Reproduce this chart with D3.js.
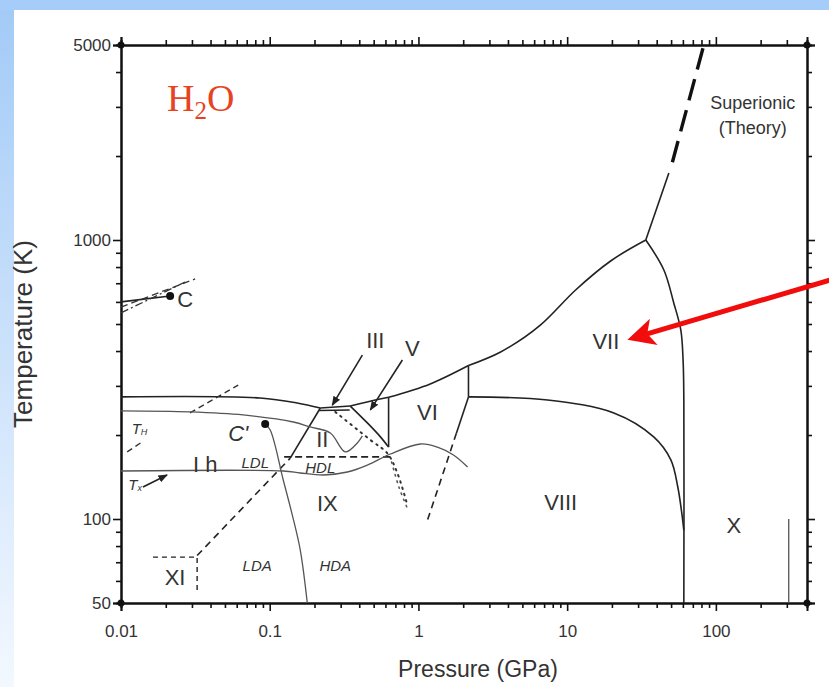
<!DOCTYPE html>
<html>
<head>
<meta charset="utf-8">
<script src="https://cdn.jsdelivr.net/npm/d3@7"></script>
<style>
  body { margin: 0; background: #fff; }
  text { font-family: "Liberation Sans", Arial, sans-serif; fill: #333; }
</style>
</head>
<body>
<div class="visArea"></div>
<script>
// Chart size
var width = 829;
var height = 687;

// Axis ticks (pressure in GPa, temperature in K)
var xMajor = [0.01, 0.1, 1, 10, 100];
var xMajorLabels = ["0.01", "0.1", "1", "10", "100"];
var xMinor = [0.02, 0.03, 0.04, 0.05, 0.06, 0.07, 0.08, 0.09,
  0.2, 0.3, 0.4, 0.5, 0.6, 0.7, 0.8, 0.9,
  2, 3, 4, 5, 6, 7, 8, 9,
  20, 30, 40, 50, 60, 70, 80, 90, 200, 300];
var yMajor = [50, 100, 1000, 5000];
var yMajorLabels = ["50", "100", "1000", "5000"];
var yMinor = [60, 70, 80, 90, 200, 300, 400, 500, 600, 700, 800, 900, 2000, 3000, 4000];

// Phase boundaries, [pressure, temperature]
var meltIh = [[0.01, 274], [0.086, 271.5], [0.153, 260.6], [0.219, 250]];
var meltIII = [[0.219, 250], [0.348, 254]];
var lowerIII = [[0.215, 245], [0.345, 246]];
var meltV = [[0.348, 254], [0.53, 268], [0.63, 273]];
var meltVI = [[0.63, 273], [1.2, 305], [2.17, 355]];
var meltVII = [[2.17, 355], [3.57, 397], [6.63, 496], [11.4, 662], [19.6, 841], [33.8, 1000]];
var upperVII = [[33.8, 1000], [48.3, 1739]];
var superionic = [[51, 1900], [83, 5000]];
var boundaryVII_X = [[33.8, 1000], [44.7, 781], [52.1, 595], [58.1, 476], [60.2, 371], [60.9, 267], [60.9, 50]];
var boundaryVII_VIII = [[2.17, 274], [7.39, 267], [20.6, 240], [38.2, 197], [49.8, 163], [55.5, 130], [59, 105], [60.9, 91]];
var boundaryVI_VII = [[2.17, 355], [2.17, 274]];
var boundaryVI_VIII = [[2.17, 274], [1.8, 203]];
var boundaryVI_VIII_dash = [[1.8, 203], [1.15, 99]];
var boundaryII_V = [[0.348, 254], [0.4535, 221], [0.555, 197], [0.63, 181]];
var boundaryV_VI = [[0.63, 273], [0.63, 181]];
var boundaryIh_II = [[0.137, 165], [0.219, 250]];
var boundaryIh_XI_dash = [[0.0325, 74], [0.137, 165]];
var boundaryXI = [[0.0164, 73], [0.0325, 73], [0.0325, 55.7]];
var ihDashA = [[0.011, 174], [0.01385, 189]];
var ihDashB = [[0.0291, 240], [0.0614, 302]];
var hdlDash = [[0.125, 167], [0.65, 167]];
var dottedII = [[0.276, 242], [0.475, 192], [0.618, 172], [0.722, 146], [0.843, 112]];
var dottedII2 = [[0.66, 160], [0.74, 130], [0.85, 108]];
var liquidVapour = [[0.01, 600], [0.0214, 630]];
var lvDashA = [[0.01, 575], [0.0315, 725]];
var lvDashB = [[0.01, 548], [0.027, 707]];
var criticalC = [0.0214, 630];
var criticalC2 = [0.0932, 219];

// Grey lines: homogeneous nucleation T_H, crystallisation T_x, LDA/HDA
var lineTH = [[0.01, 244], [0.0291, 242], [0.0663, 236], [0.144, 222.7], [0.1874, 213.7], [0.2556, 203.4],
  [0.3225, 174], [0.388, 187.3], [0.4196, 198.5]];
var lineTx = [[0.01, 148.6], [0.1233, 148.6], [0.1605, 146.2], [0.2293, 143.8], [0.3325, 147.4], [0.4535, 156.1],
  [0.6477, 171], [1.032, 185.7], [1.343, 181], [1.72, 169.6], [2.14, 153.6]];
var lineC2 = [[0.0932, 219], [0.1008, 208.5], [0.1233, 138], [0.1418, 103.4], [0.1605, 77.4], [0.1789, 50]];
var lineX = [[309, 100], [309, 50]];

// Pointer arrows [from, to]
var arrowIII = [[0.4196, 387], [0.2636, 256]];
var arrowV = [[0.78, 371.5], [0.475, 246]];
var arrowTx = [[0.01406, 130.2], [0.0204, 143.8]];
var arrowRed = [[586, 719], [27.6, 445]];

// Labels
var phaseNames = ["VII", "VI", "VIII", "IX", "X", "XI", "II", "I h", "III", "V"];
var phaseAt = [[18.2, 431], [1.15, 240], [9.04, 115], [0.244, 114], [132, 95], [0.0231, 61.5],
  [0.2257, 192], [0.0368, 157], [0.513, 438], [0.911, 410]];
var smallNames = ["LDL", "HDL", "LDA", "HDA"];
var smallAt = [[0.0799, 160], [0.2187, 153.6], [0.0824, 67.9], [0.276, 67.9]];

var x = d3.scaleLog().domain([0.01, 410]).range([121, 807]);
var y = d3.scaleLog().domain([50, 5000]).range([603, 45]);

var svg = d3.select('body').select('.visArea')
  .append('svg')
  .attr('width', width)
  .attr('height', height);

// slide background bands
var defs = svg.append('defs');
var grad = defs.append('linearGradient')
  .attr('id', 'sideBand')
  .attr('x1', 0).attr('y1', 0).attr('x2', 0).attr('y2', 1);
grad.append('stop').attr('offset', '0%').attr('stop-color', '#a3cbf7');
grad.append('stop').attr('offset', '100%').attr('stop-color', '#f3f8ff');
svg.append('rect').attr('width', width).attr('height', height).attr('fill', '#fff');
svg.append('rect').attr('width', width).attr('height', 10).attr('fill', '#a6cdf9');
svg.append('rect').attr('y', 10).attr('width', 14).attr('height', height - 10).attr('fill', 'url(#sideBand)');

var marker = defs.append('marker')
  .attr('id', 'head')
  .attr('viewBox', '0 0 10 10')
  .attr('refX', 9).attr('refY', 5)
  .attr('markerWidth', 6).attr('markerHeight', 6)
  .attr('orient', 'auto');
marker.append('path').attr('d', 'M0,1 L10,5 L0,9 Z').attr('fill', '#222');

var redMarker = defs.append('marker')
  .attr('id', 'redHead')
  .attr('viewBox', '0 0 10 10')
  .attr('refX', 8).attr('refY', 5)
  .attr('markerWidth', 5.5).attr('markerHeight', 5.5)
  .attr('markerUnits', 'strokeWidth')
  .attr('orient', 'auto');
redMarker.append('path').attr('d', 'M0,0 L10,5 L0,10 L2.5,5 Z').attr('fill', '#f20d0d');

function drawLine(data, color, w, dash, curve) {
  var line = d3.line()
    .x(d => x(d[0]))
    .y(d => y(d[1]))
    .curve(curve || d3.curveCatmullRom);
  var p = svg.append('path')
    .datum(data)
    .attr('d', line)
    .attr('fill', 'none')
    .attr('stroke', color)
    .attr('stroke-width', w)
    .attr('stroke-linejoin', 'round');
  if (dash) p.attr('stroke-dasharray', dash);
  return p;
}

// axes
var bottomMajor = d3.axisBottom(x).tickValues(xMajor).tickSize(8).tickPadding(14).tickFormat((d, i) => xMajorLabels[i]);
var bottomMinor = d3.axisBottom(x).tickValues(xMinor).tickSize(5).tickFormat('');
var topMajor = d3.axisTop(x).tickValues(xMajor).tickSize(8).tickFormat('');
var topMinor = d3.axisTop(x).tickValues(xMinor).tickSize(5).tickFormat('');
var leftMajor = d3.axisLeft(y).tickValues(yMajor).tickSize(8).tickPadding(2).tickFormat((d, i) => yMajorLabels[i]);
var leftMinor = d3.axisLeft(y).tickValues(yMinor).tickSize(5).tickFormat('');
var rightMajor = d3.axisRight(y).tickValues(yMajor).tickSize(8).tickFormat('');
var rightMinor = d3.axisRight(y).tickValues(yMinor).tickSize(5).tickFormat('');

function addAxis(ax, tx, ty) {
  var g = svg.append('g').attr('transform', 'translate(' + tx + ',' + ty + ')').call(ax);
  g.selectAll('path').attr('stroke', '#111').attr('stroke-width', 2);
  g.selectAll('line').attr('stroke', '#111').attr('stroke-width', 1.6);
  g.selectAll('text').style('font-size', '17px').attr('fill', '#333');
  return g;
}
addAxis(bottomMinor, 0, 603);
addAxis(bottomMajor, 0, 603);
addAxis(topMinor, 0, 45);
addAxis(topMajor, 0, 45);
addAxis(leftMinor, 121, 0);
addAxis(leftMajor, 121, 0);
addAxis(rightMinor, 807, 0);
addAxis(rightMajor, 807, 0);

[[121, 45], [121, 603], [807, 45], [807, 603]].forEach(function(c) {
  svg.append('circle').attr('cx', c[0]).attr('cy', c[1]).attr('r', 3.5).attr('fill', '#111');
});

// axis titles
svg.append('text')
  .attr('x', 478).attr('y', 677)
  .attr('text-anchor', 'middle')
  .style('font-size', '23px')
  .text('Pressure (GPa)');
svg.append('text')
  .attr('transform', 'translate(32,334) rotate(-90)')
  .attr('text-anchor', 'middle')
  .style('font-size', '26px')
  .text('Temperature (K)');

// solid phase boundaries
var solidBlack = [meltIh, meltIII, lowerIII, meltV, meltVI, upperVII, boundaryVII_X, boundaryVII_VIII,
  boundaryVI_VII, boundaryVI_VIII, boundaryII_V, boundaryV_VI, boundaryIh_II, liquidVapour];
solidBlack.forEach(d => drawLine(d, '#222', 1.6));
drawLine(meltVII, '#222', 1.6, null, d3.curveMonotoneX);

drawLine(superionic, '#111', 3.4, '22,10');
drawLine(boundaryVI_VIII_dash, '#222', 1.6, '7,5');
drawLine(boundaryIh_XI_dash, '#222', 1.6, '7,5');
drawLine(boundaryXI, '#222', 1.4, '5,4', d3.curveLinear);
drawLine(ihDashA, '#333', 1.4, '6,4');
drawLine(ihDashB, '#333', 1.4, '6,4');
drawLine(hdlDash, '#222', 1.6, '7,4');
drawLine(dottedII, '#333', 2, '1.5,5').attr('stroke-linecap', 'round');
drawLine(dottedII2, '#555', 1.6, '1.5,5').attr('stroke-linecap', 'round');
drawLine(lvDashA, '#333', 1.3, '7,4');
drawLine(lvDashB, '#333', 1.3, '8,3,2,3');

// grey lines
drawLine(lineTH, '#555', 1.3);
drawLine(lineTx, '#555', 1.3);
drawLine(lineC2, '#555', 1.3);
drawLine(lineX, '#555', 1.3);

// critical points
[criticalC, criticalC2].forEach(function(d) {
  svg.append('circle').attr('cx', x(d[0])).attr('cy', y(d[1])).attr('r', 4).attr('fill', '#111');
});

// pointer arrows
[arrowIII, arrowV, arrowTx].forEach(function(a) {
  svg.append('line')
    .attr('x1', x(a[0][0])).attr('y1', y(a[0][1]))
    .attr('x2', x(a[1][0])).attr('y2', y(a[1][1]))
    .attr('stroke', '#222').attr('stroke-width', 1.6)
    .attr('marker-end', 'url(#head)');
});
svg.append('line')
  .attr('x1', x(arrowRed[0][0])).attr('y1', y(arrowRed[0][1]))
  .attr('x2', x(arrowRed[1][0])).attr('y2', y(arrowRed[1][1]))
  .attr('stroke', '#f20d0d').attr('stroke-width', 5)
  .attr('marker-end', 'url(#redHead)');

// phase labels
phaseNames.forEach(function(name, i) {
  svg.append('text')
    .attr('x', x(phaseAt[i][0])).attr('y', y(phaseAt[i][1]))
    .attr('text-anchor', 'middle')
    .attr('dominant-baseline', 'central')
    .style('font-size', '22px')
    .text(name);
});
smallNames.forEach(function(name, i) {
  svg.append('text')
    .attr('x', x(smallAt[i][0])).attr('y', y(smallAt[i][1]))
    .attr('text-anchor', 'middle')
    .attr('dominant-baseline', 'central')
    .style('font-size', '15px')
    .style('font-style', 'italic')
    .text(name);
});

svg.append('text')
  .attr('x', x(0.0214) + 7).attr('y', y(614))
  .attr('dominant-baseline', 'central')
  .style('font-size', '22px')
  .text('C');
svg.append('text')
  .attr('x', x(0.0614)).attr('y', y(203))
  .attr('text-anchor', 'middle')
  .attr('dominant-baseline', 'central')
  .style('font-size', '22px')
  .style('font-style', 'italic')
  .text("C'");

var th = svg.append('text')
  .attr('x', x(0.0118)).attr('y', y(212))
  .attr('dominant-baseline', 'central')
  .style('font-size', '15px')
  .style('font-style', 'italic');
th.append('tspan').text('T');
th.append('tspan').attr('dy', 4).style('font-size', '9px').text('H');
var tx = svg.append('text')
  .attr('x', x(0.0112)).attr('y', y(134))
  .attr('dominant-baseline', 'central')
  .style('font-size', '15px')
  .style('font-style', 'italic');
tx.append('tspan').text('T');
tx.append('tspan').attr('dy', 4).style('font-size', '9px').text('x');

svg.append('text')
  .attr('x', x(177)).attr('y', y(3100))
  .attr('text-anchor', 'middle')
  .attr('dominant-baseline', 'central')
  .style('font-size', '18px')
  .attr('fill', '#444')
  .text('Superionic');
svg.append('text')
  .attr('x', x(177)).attr('y', y(2520))
  .attr('text-anchor', 'middle')
  .attr('dominant-baseline', 'central')
  .style('font-size', '18px')
  .attr('fill', '#444')
  .text('(Theory)');

// H2O title
var h2o = svg.append('text')
  .attr('x', 167).attr('y', 111)
  .style('font-family', '"Liberation Serif", "Times New Roman", serif')
  .style('font-size', '38px')
  .style('fill', '#e8431f');
h2o.append('tspan').text('H');
h2o.append('tspan').attr('dy', 8).style('font-size', '25px').text('2');
h2o.append('tspan').attr('dy', -8).text('O');
</script>
</body>
</html>
